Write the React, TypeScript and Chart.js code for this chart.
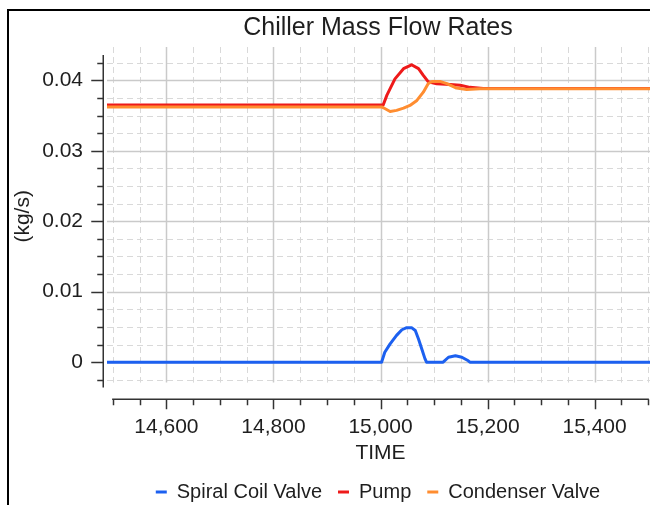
import React, { useEffect, useRef } from "react";
import { Chart, registerables } from "chart.js";

Chart.register(...registerables);

// ---------- text ----------
const chartTitle = "Chiller Mass Flow Rates";
const xAxisTitle = "TIME";
const yAxisTitle = "(kg/s)";
const seriesNames = ["Spiral Coil Valve", "Pump", "Condenser Valve"];
const seriesColors = ["#1c60f0", "#ee1a1a", "#ff8d30"];

// ---------- data (TIME, kg/s) ----------
const spiralTime = [14480, 15002, 15008, 15018, 15030, 15040, 15049, 15058, 15065, 15071, 15077, 15083, 15086, 15117, 15127, 15140, 15152, 15164, 15167, 15520];
const spiralFlow = [0, 0, 0.0014, 0.0026, 0.0038, 0.0046, 0.0049, 0.0049, 0.0045, 0.0033, 0.0019, 0.0005, 0, 0, 0.0007, 0.0009, 0.0007, 0.0002, 0, 0];

const pumpTime = [14480, 15005, 15012, 15027, 15043, 15058, 15071, 15080, 15089, 15105, 15130, 15149, 15167, 15192, 15520];
const pumpFlow = [0.0365, 0.0365, 0.0379, 0.0402, 0.04165, 0.0422, 0.04165, 0.0407, 0.0398, 0.0395, 0.0394, 0.0393, 0.039, 0.03885, 0.03885];

const condTime = [14480, 15003, 15008, 15018, 15030, 15043, 15055, 15068, 15080, 15089, 15096, 15111, 15124, 15142, 15161, 15186, 15520];
const condFlow = [0.0362, 0.0362, 0.036, 0.03558, 0.03573, 0.03605, 0.03643, 0.03714, 0.03832, 0.03952, 0.03984, 0.03984, 0.03952, 0.0389, 0.0387, 0.0388, 0.0388];

// ---------- ticks / ranges ----------
const xTickValues = [14600, 14800, 15000, 15200, 15400];
const yTickValues = [0, 0.01, 0.02, 0.03, 0.04];
const xMinorStep = 50;
const yMinorStep = 0.0025;
const xAxisStart = 14500;
const xAxisEnd = 15500;
const yMinorStart = -0.0025;
const yMinorEnd = 0.0425;
const xMin = 14489;
const xMax = 15511;
const yMin = -0.0029;
const yMax = 0.0443;

const FONT = '"Liberation Sans", Arial, sans-serif';
const TEXT = "#1e1e1e";

const zip = (xs: number[], ys: number[]) => xs.map((x, i) => ({ x, y: ys[i] }));

const isMajorY = (v: number) => yTickValues.some((t) => Math.abs(t - v) < 1e-9);

const gridAxesPlugin = {
  id: "gridAxes",
  beforeDatasetsDraw(chart: any) {
    const { ctx, chartArea: a, scales } = chart;
    const xs = scales.x;
    const ys = scales.y;
    const seg = (x1: number, y1: number, x2: number, y2: number) => {
      ctx.beginPath();
      ctx.moveTo(x1, y1);
      ctx.lineTo(x2, y2);
      ctx.stroke();
    };
    ctx.save();
    ctx.lineWidth = 1;
    // minor dashed grid
    ctx.strokeStyle = "#d9d9d9";
    ctx.setLineDash([6, 4]);
    for (let i = 0; ; i++) {
      const v = xAxisStart + i * xMinorStep;
      if (v > xAxisEnd) break;
      if (xTickValues.includes(v)) continue;
      const px = Math.round(xs.getPixelForValue(v)) + 0.5;
      seg(px, a.top - 3, px, a.bottom);
    }
    for (let i = 0; ; i++) {
      const v = yMinorStart + i * yMinorStep;
      if (v > yMinorEnd + 1e-9) break;
      if (isMajorY(v)) continue;
      const py = Math.round(ys.getPixelForValue(v)) + 0.5;
      seg(a.left, py, a.right, py);
    }
    // major solid grid
    ctx.setLineDash([]);
    ctx.strokeStyle = "#cacaca";
    ctx.lineWidth = 1.5;
    xTickValues.forEach((v) => {
      const px = Math.round(xs.getPixelForValue(v)) + 0.5;
      seg(px, a.top - 3, px, a.bottom);
    });
    yTickValues.forEach((v) => {
      const py = Math.round(ys.getPixelForValue(v)) + 0.5;
      seg(a.left, py, a.right, py);
    });
    ctx.restore();
  },
  afterDatasetsDraw(chart: any) {
    const { ctx, chartArea: a, scales } = chart;
    const xs = scales.x;
    const ys = scales.y;
    const seg = (x1: number, y1: number, x2: number, y2: number) => {
      ctx.beginPath();
      ctx.moveTo(x1, y1);
      ctx.lineTo(x2, y2);
      ctx.stroke();
    };
    ctx.save();
    ctx.strokeStyle = "#333333";
    ctx.lineWidth = 1.5;
    // y axis
    const ax = Math.round(a.left - 4.5) + 0.25;
    seg(ax, a.top + 5, ax, a.bottom + 5);
    for (let i = 0; ; i++) {
      const v = yMinorStart + i * yMinorStep;
      if (v > yMinorEnd + 1e-9) break;
      const py = Math.round(ys.getPixelForValue(v)) + 0.5;
      seg(ax, py, ax - (isMajorY(v) ? 12 : 6), py);
    }
    // x axis
    const ay = Math.round(a.bottom + 16) + 0.25;
    const x0 = xs.getPixelForValue(xAxisStart);
    const x1 = xs.getPixelForValue(xAxisEnd);
    seg(x0 - 0.75, ay, x1 + 0.75, ay);
    for (let i = 0; ; i++) {
      const v = xAxisStart + i * xMinorStep;
      if (v > xAxisEnd) break;
      const px = Math.round(xs.getPixelForValue(v)) + 0.5;
      seg(px, ay, px, ay + (xTickValues.includes(v) ? 10 : 6));
    }
    ctx.restore();
  },
};

export default function App() {
  const ref = useRef<HTMLCanvasElement | null>(null);

  useEffect(() => {
    document.body.style.margin = "0";
    document.body.style.overflow = "hidden";
    const canvas = ref.current;
    if (!canvas) return;
    Chart.defaults.font.family = FONT;
    const chart = new Chart(canvas, {
      type: "line",
      data: {
        datasets: [
          { label: seriesNames[0], data: zip(spiralTime, spiralFlow), borderColor: seriesColors[0], backgroundColor: seriesColors[0], order: 0 },
          { label: seriesNames[1], data: zip(pumpTime, pumpFlow), borderColor: seriesColors[1], backgroundColor: seriesColors[1], order: 2 },
          { label: seriesNames[2], data: zip(condTime, condFlow), borderColor: seriesColors[2], backgroundColor: seriesColors[2], order: 1 },
        ],
      },
      options: {
        responsive: false,
        animation: false,
        events: [],
        layout: { padding: 0 },
        elements: {
          point: { radius: 0 },
          line: { borderWidth: 3, tension: 0, borderJoinStyle: "round", borderCapStyle: "round" },
        },
        scales: {
          x: {
            type: "linear",
            min: xMin,
            max: xMax,
            grid: { display: false, drawTicks: false },
            border: { display: false },
            afterBuildTicks: (s: any) => {
              s.ticks = xTickValues.map((value) => ({ value }));
            },
            afterFit: (s: any) => {
              s.height = 83.4;
            },
            ticks: {
              padding: 32,
              maxRotation: 0,
              autoSkip: false,
              color: TEXT,
              font: { size: 21, family: FONT },
              callback: (v: any) => Number(v).toLocaleString("en-US"),
            },
            title: {
              display: true,
              text: xAxisTitle,
              color: TEXT,
              font: { size: 21, family: FONT },
              padding: { top: 0, bottom: 0 },
            },
          },
          y: {
            type: "linear",
            position: "left",
            min: yMin,
            max: yMax,
            grid: { display: false, drawTicks: false },
            border: { display: false },
            afterBuildTicks: (s: any) => {
              s.ticks = yTickValues.map((value) => ({ value }));
            },
            afterFit: (s: any) => {
              s.width = 107;
            },
            ticks: {
              padding: 24,
              autoSkip: false,
              color: TEXT,
              font: { size: 21, family: FONT },
              callback: (v: any) => (Number(v) === 0 ? "0" : Number(v).toFixed(2)),
            },
            title: {
              display: true,
              text: yAxisTitle,
              color: TEXT,
              font: { size: 21, family: FONT },
              padding: { top: 11, bottom: 0 },
            },
          },
          yRightSpace: {
            type: "linear",
            position: "right",
            display: true,
            min: yMin,
            max: yMax,
            grid: { display: false, drawTicks: false },
            border: { display: false },
            ticks: { display: false },
            afterFit: (s: any) => {
              s.width = 102;
            },
          },
        },
        plugins: {
          title: {
            display: true,
            text: chartTitle,
            color: TEXT,
            font: { size: 25, family: FONT, weight: "normal" },
            padding: { top: 13, bottom: 7 },
          },
          legend: {
            display: true,
            position: "bottom",
            labels: {
              color: TEXT,
              font: { size: 20, family: FONT },
              boxWidth: 11,
              boxHeight: 3,
              padding: 16,
              generateLabels: (c: any) =>
                Chart.defaults.plugins.legend.labels
                  .generateLabels(c)
                  .map((l: any) => ({
                    ...l,
                    fillStyle: seriesColors[l.datasetIndex],
                    strokeStyle: seriesColors[l.datasetIndex],
                    lineWidth: 0,
                  }))
                  .sort((p: any, q: any) => p.datasetIndex - q.datasetIndex),
            },
          },
          tooltip: { enabled: false },
        },
      },
      plugins: [gridAxesPlugin],
    } as any);
    return () => chart.destroy();
  }, []);

  return (
    <div style={{ position: "relative", width: 650, height: 505, overflow: "hidden", background: "#fff" }}>
      <div
        style={{
          position: "absolute",
          left: 7,
          top: 9,
          width: 800,
          height: 600,
          borderLeft: "2px solid #000",
          borderTop: "2px solid #000",
          boxSizing: "border-box",
        }}
      />
      <canvas
        ref={ref}
        width={756}
        height={512}
        style={{ position: "absolute", left: 0, top: 0, width: 756, height: 512, display: "block" }}
      />
    </div>
  );
}
